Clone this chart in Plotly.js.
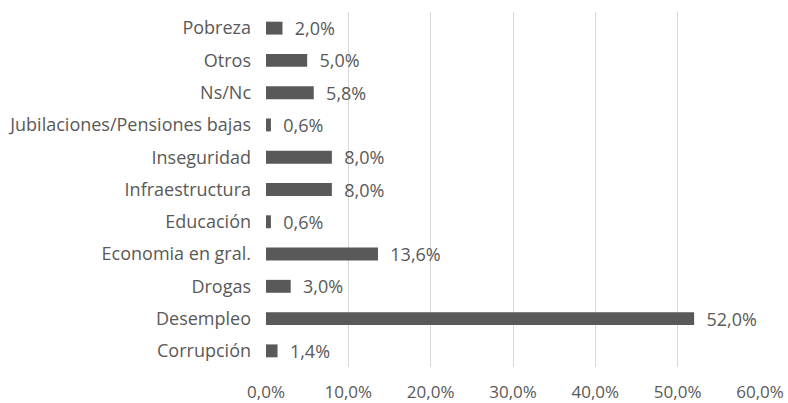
<!DOCTYPE html>
<html><head><meta charset="utf-8">
<script src="https://cdn.plot.ly/plotly-3.0.1.min.js"></script>
<style>body{margin:0;background:#fff}#c{width:788px;height:403px}</style>
</head><body><div id="c"></div>
<script>
const categories = ["Corrupción","Desempleo","Drogas","Economia en gral.","Educación","Infraestructura","Inseguridad","Jubilaciones/Pensiones bajas","Ns/Nc","Otros","Pobreza"];
const values = [1.4,52.0,3.0,13.6,0.6,8.0,8.0,0.6,5.8,5.0,2.0];
const tickVals = [0,10,20,30,40,50,60];
const tickText = ["0,0%","10,0%","20,0%","30,0%","40,0%","50,0%","60,0%"];
const labels = values.map(v => "  " + v.toFixed(1).replace(".", ",") + "%");

Plotly.newPlot("c", [{
  type: "bar", orientation: "h",
  y: categories, x: values,
  text: labels, textposition: "outside", cliponaxis: false, constraintext: "none",
  outsidetextfont: {family: "Open Sans", size: 18, color: "#595959"},
  textfont: {family: "Open Sans", size: 18, color: "#595959"},
  marker: {color: "#595959"},
  width: 0.4, hoverinfo: "skip"
}], {
  width: 788, height: 403,
  margin: {l: 266, r: 28, t: 12, b: 36},
  paper_bgcolor: "#fff", plot_bgcolor: "#fff",
  font: {family: "Open Sans", size: 17, color: "#595959"},
  showlegend: false,
  xaxis: {range: [0, 60], tickvals: tickVals, ticktext: tickText, showgrid: true,
    tickfont: {family: "Open Sans", size: 17, color: "#595959"}, ticklabelstandoff: 13,
    gridcolor: "#d9d9d9", gridwidth: 1, zeroline: false, showline: false, ticks: "", fixedrange: true},
  yaxis: {type: "category", showgrid: false, ticks: "", ticklen: 0, automargin: false,
    tickfont: {family: "Open Sans", size: 18, color: "#595959"}, ticklabelstandoff: 14,
    range: [-0.5, 10.5], showline: false, zeroline: false, fixedrange: true}
}, {displayModeBar: false, staticPlot: true});
</script></body></html>
